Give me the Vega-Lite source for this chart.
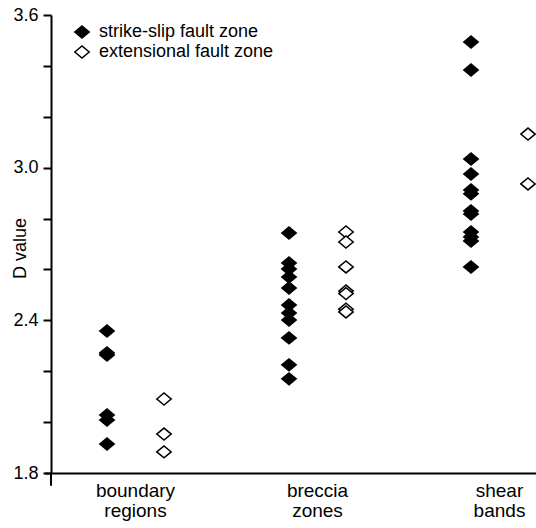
{
  "$schema": "https://vega.github.io/schema/vega-lite/v6.json",
  "width": 485,
  "height": 458,
  "autosize": {"type": "none"},
  "padding": {"left": 51, "top": 15, "right": 0, "bottom": 55},
  "background": "white",
  "config": {"view": {"stroke": null}, "font": "Liberation Sans"},
  "data": {
    "values": [
      {"region": "boundary regions", "fault": "strike-slip fault zone", "D": 2.358},
      {"region": "boundary regions", "fault": "strike-slip fault zone", "D": 2.272},
      {"region": "boundary regions", "fault": "strike-slip fault zone", "D": 2.264},
      {"region": "boundary regions", "fault": "strike-slip fault zone", "D": 2.028},
      {"region": "boundary regions", "fault": "strike-slip fault zone", "D": 2.008},
      {"region": "boundary regions", "fault": "strike-slip fault zone", "D": 1.914},
      {"region": "boundary regions", "fault": "extensional fault zone", "D": 2.091},
      {"region": "boundary regions", "fault": "extensional fault zone", "D": 1.953},
      {"region": "boundary regions", "fault": "extensional fault zone", "D": 1.883},
      {"region": "breccia zones", "fault": "strike-slip fault zone", "D": 2.743},
      {"region": "breccia zones", "fault": "strike-slip fault zone", "D": 2.625},
      {"region": "breccia zones", "fault": "strike-slip fault zone", "D": 2.602},
      {"region": "breccia zones", "fault": "strike-slip fault zone", "D": 2.570},
      {"region": "breccia zones", "fault": "strike-slip fault zone", "D": 2.527},
      {"region": "breccia zones", "fault": "strike-slip fault zone", "D": 2.460},
      {"region": "breccia zones", "fault": "strike-slip fault zone", "D": 2.429},
      {"region": "breccia zones", "fault": "strike-slip fault zone", "D": 2.401},
      {"region": "breccia zones", "fault": "strike-slip fault zone", "D": 2.331},
      {"region": "breccia zones", "fault": "strike-slip fault zone", "D": 2.225},
      {"region": "breccia zones", "fault": "strike-slip fault zone", "D": 2.170},
      {"region": "breccia zones", "fault": "extensional fault zone", "D": 2.747},
      {"region": "breccia zones", "fault": "extensional fault zone", "D": 2.708},
      {"region": "breccia zones", "fault": "extensional fault zone", "D": 2.610},
      {"region": "breccia zones", "fault": "extensional fault zone", "D": 2.515},
      {"region": "breccia zones", "fault": "extensional fault zone", "D": 2.505},
      {"region": "breccia zones", "fault": "extensional fault zone", "D": 2.444},
      {"region": "breccia zones", "fault": "extensional fault zone", "D": 2.433},
      {"region": "shear bands", "fault": "strike-slip fault zone", "D": 3.494},
      {"region": "shear bands", "fault": "strike-slip fault zone", "D": 3.384},
      {"region": "shear bands", "fault": "strike-slip fault zone", "D": 3.034},
      {"region": "shear bands", "fault": "strike-slip fault zone", "D": 2.975},
      {"region": "shear bands", "fault": "strike-slip fault zone", "D": 2.912},
      {"region": "shear bands", "fault": "strike-slip fault zone", "D": 2.897},
      {"region": "shear bands", "fault": "strike-slip fault zone", "D": 2.830},
      {"region": "shear bands", "fault": "strike-slip fault zone", "D": 2.818},
      {"region": "shear bands", "fault": "strike-slip fault zone", "D": 2.747},
      {"region": "shear bands", "fault": "strike-slip fault zone", "D": 2.728},
      {"region": "shear bands", "fault": "strike-slip fault zone", "D": 2.712},
      {"region": "shear bands", "fault": "strike-slip fault zone", "D": 2.610},
      {"region": "shear bands", "fault": "extensional fault zone", "D": 3.132},
      {"region": "shear bands", "fault": "extensional fault zone", "D": 2.936}
    ]
  },
  "layer": [
    {
      "data": {"values": [{}]},
      "mark": {"type": "rule", "color": "black", "strokeWidth": 2},
      "encoding": {
        "x": {"value": 0},
        "y": {"datum": 1.8},
        "y2": {"datum": 1.75}
      }
    },
    {
      "mark": {
        "type": "point",
        "shape": "M-1.2,0L0,-1L1.2,0L0,1Z",
        "size": 144,
        "stroke": "black",
        "strokeWidth": 1.5,
        "opacity": 1,
        "fillOpacity": 1
      },
      "encoding": {
        "x": {
          "field": "region",
          "type": "nominal",
          "sort": ["boundary regions", "breccia zones", "shear bands"],
          "scale": {"range": [-6.5, 539.5], "paddingInner": 0, "paddingOuter": 0},
          "axis": {
            "title": null,
            "labelAngle": 0,
            "labelExpr": "split(datum.label, ' ')",
            "labelFontSize": 19,
            "labelColor": "black",
            "labelPadding": 8,
            "labelLineHeight": 20,
            "ticks": false,
            "domainColor": "black",
            "domainWidth": 2
          }
        },
        "xOffset": {
          "field": "fault",
          "type": "nominal",
          "sort": ["strike-slip fault zone", "extensional fault zone"],
          "scale": {"range": [62.5, 119.5], "padding": 0}
        },
        "y": {
          "field": "D",
          "type": "quantitative",
          "scale": {"domain": [1.8, 3.6], "nice": false, "zero": false},
          "axis": {
            "title": "D value",
            "titleFontSize": 18,
            "titleFontWeight": "normal",
            "titleColor": "black",
            "titleX": -26,
            "titleY": 233,
            "titleBaseline": "alphabetic",
            "values": [1.8, 2.0, 2.2, 2.4, 2.6, 2.8, 3.0, 3.2, 3.4, 3.6],
            "labelExpr": "(datum.value == 1.8 || datum.value == 2.4 || datum.value == 3 || datum.value == 3.6) ? format(datum.value, '.1f') : ''",
            "labelFontSize": 18,
            "labelColor": "black",
            "labelPadding": 5,
            "tickSize": 8,
            "tickWidth": 2,
            "tickColor": "black",
            "domainColor": "black",
            "domainWidth": 2,
            "grid": false
          }
        },
        "fill": {
          "field": "fault",
          "type": "nominal",
          "scale": {
            "domain": ["strike-slip fault zone", "extensional fault zone"],
            "range": ["black", "white"]
          },
          "legend": {
            "title": null,
            "orient": "none",
            "legendX": 22,
            "legendY": 8,
            "padding": 0,
            "labelFontSize": 18,
            "labelColor": "black",
            "labelOffset": 8,
            "labelLimit": 0,
            "rowPadding": 2,
            "symbolType": "M-1.2,0L0,-1L1.2,0L0,1Z",
            "symbolSize": 144,
            "symbolStrokeColor": "black",
            "symbolStrokeWidth": 1.5,
            "symbolOpacity": 1
          }
        }
      }
    }
  ]
}
